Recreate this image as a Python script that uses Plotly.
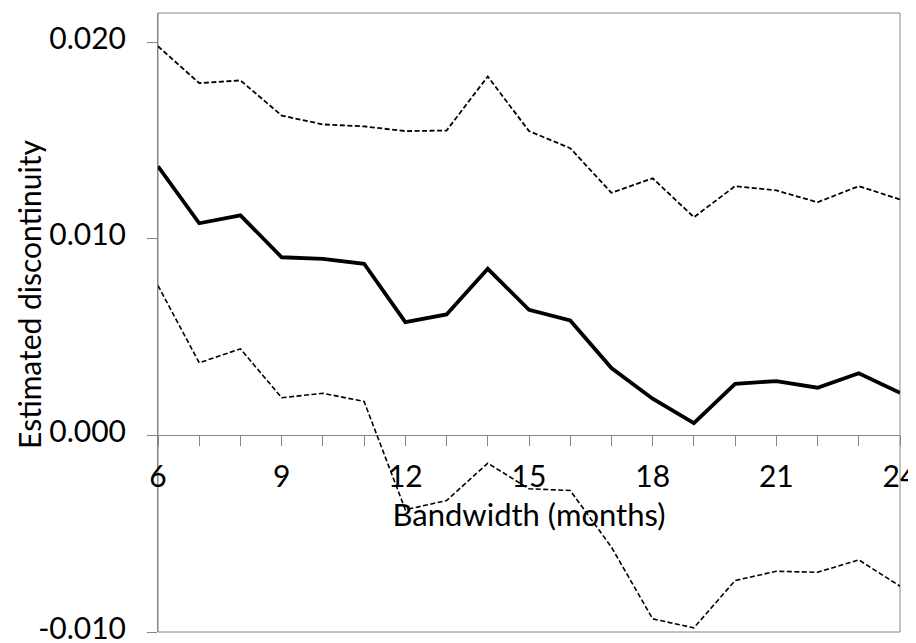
import plotly.graph_objects as go

bandwidth = list(range(6, 25))
estimate = [0.01370, 0.01080, 0.01120, 0.00907, 0.00899, 0.00874, 0.00577, 0.00616, 0.00848,
            0.00640, 0.00585, 0.00343, 0.00187, 0.00063, 0.00263, 0.00277, 0.00243, 0.00317, 0.00217]
upper_ci = [0.01981, 0.01793, 0.01807, 0.01628, 0.01583, 0.01573, 0.01549, 0.01552, 0.01827,
            0.01549, 0.01462, 0.01235, 0.01309, 0.01111, 0.01269, 0.01247, 0.01187, 0.01269, 0.01201]
lower_ci = [0.00763, 0.00370, 0.00441, 0.00192, 0.00215, 0.00173, -0.00378, -0.00331, -0.00141,
            -0.00271, -0.00280, -0.00568, -0.00933, -0.00979, -0.00738, -0.00691, -0.00696, -0.00633, -0.00767]

x_tick_vals = list(range(6, 25))
x_tick_text = [str(v) if (v - 6) % 3 == 0 else "" for v in x_tick_vals]
y_tick_vals = [-0.010, 0.000, 0.010, 0.020]
y_tick_text = ["-0.010", "0.000", "0.010", "0.020"]

FONT = "Lato"
GRAY = "#868686"
Y_MIN, Y_MAX = -0.010, 0.0215

fig = go.Figure()
fig.add_trace(go.Scatter(x=bandwidth, y=upper_ci, mode="lines",
                         line=dict(color="black", width=1.8, dash="5px,2.5px"), showlegend=False))
fig.add_trace(go.Scatter(x=bandwidth, y=lower_ci, mode="lines",
                         line=dict(color="black", width=1.6, dash="5px,2.5px"), showlegend=False))
fig.add_trace(go.Scatter(x=bandwidth, y=estimate, mode="lines",
                         line=dict(color="black", width=3.8), showlegend=False))

fig.update_layout(
    width=916, height=643,
    margin=dict(l=149.5, r=24, t=4.5, b=19, autoexpand=False),
    paper_bgcolor="white", plot_bgcolor="white",
    font=dict(family=FONT, size=30, color="black"),
    xaxis=dict(range=[6, 24], tickmode="array", tickvals=x_tick_vals, ticktext=x_tick_text,
               anchor="free", position=(0 - Y_MIN) / (Y_MAX - Y_MIN),
               showline=True, linecolor=GRAY, linewidth=1,
               ticks="outside", ticklen=10, tickcolor=GRAY, tickwidth=1,
               ticklabelstandoff=5, ticklabeloverflow="allow", layer="below traces",
               showgrid=False, zeroline=False, automargin=False,
               title=dict(text="Bandwidth (months)", standoff=11, font=dict(size=31))),
    yaxis=dict(range=[Y_MIN, Y_MAX], tickmode="array", tickvals=y_tick_vals, ticktext=y_tick_text,
               showline=True, linecolor=GRAY, linewidth=1,
               ticks="outside", ticklen=10, tickcolor=GRAY, tickwidth=1,
               ticklabelstandoff=15, ticklabelshift=-4, ticklabeloverflow="allow", layer="below traces",
               showgrid=False, zeroline=False, automargin=False),
    shapes=[dict(type="rect", xref="paper", yref="paper", x0=0, y0=0, x1=1, y1=1,
                 line=dict(color=GRAY, width=1), layer="below")],
    annotations=[dict(text="Estimated discontinuity", xref="paper", yref="paper",
                      x=-0.173, y=0.5456, textangle=-90, showarrow=False,
                      xanchor="center", yanchor="middle", font=dict(size=30))],
)

fig.write_html("out.html")
